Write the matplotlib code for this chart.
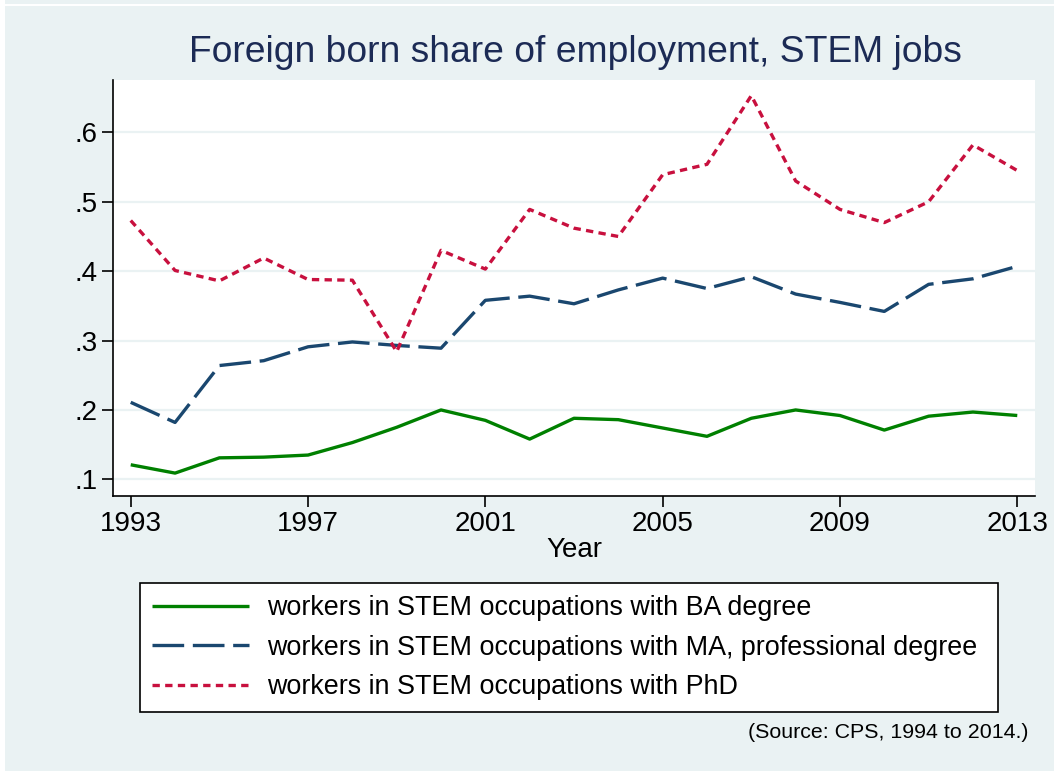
import matplotlib
matplotlib.use("Agg")
import matplotlib.pyplot as plt
from matplotlib.patches import Rectangle

years = list(range(1993, 2014))
ba = [0.121, 0.109, 0.131, 0.132, 0.135, 0.153, 0.175, 0.200, 0.185, 0.158,
      0.188, 0.186, 0.174, 0.162, 0.188, 0.200, 0.192, 0.171, 0.191, 0.197, 0.192]
ma = [0.211, 0.182, 0.264, 0.271, 0.291, 0.298, 0.293, 0.289, 0.358, 0.364,
      0.353, 0.373, 0.390, 0.375, 0.392, 0.367, 0.355, 0.342, 0.381, 0.389, 0.407]
phd = [0.473, 0.401, 0.386, 0.419, 0.388, 0.387, 0.284, 0.430, 0.403, 0.489,
       0.462, 0.450, 0.539, 0.554, 0.653, 0.530, 0.489, 0.470, 0.500, 0.582, 0.545]

xticks = [1993, 1997, 2001, 2005, 2009, 2013]
yticks = [0.1, 0.2, 0.3, 0.4, 0.5, 0.6]
ytick_labels = [".1", ".2", ".3", ".4", ".5", ".6"]
labels = ["workers in STEM occupations with BA degree",
          "workers in STEM occupations with MA, professional degree",
          "workers in STEM occupations with PhD"]
title = "Foreign born share of employment, STEM jobs"
note = "(Source: CPS, 1994 to 2014.)"

plt.rcParams['font.family'] = ['Liberation Sans', 'DejaVu Sans']

bg = "#eaf2f3"
green = "#008000"
navy = "#1a476f"
red = "#c8103e"

fig = plt.figure(figsize=(10.54, 7.71), dpi=100, facecolor=bg)
fig.patches.append(Rectangle((0, 0), 5/1054, 1, transform=fig.transFigure,
                             facecolor="white", edgecolor="none", zorder=0))
fig.patches.append(Rectangle((0, 1 - 6/771), 1, 2/771, transform=fig.transFigure,
                             facecolor="white", edgecolor="none", zorder=0))

ax = fig.add_axes([113/1054, 1 - 496/771, (1035 - 113)/1054, (496 - 80)/771])
ax.set_facecolor("white")

lw = 2.4
ax.plot(years, ba, color=green, lw=lw, solid_capstyle="butt", label=labels[0])
ax.plot(years, ma, color=navy, lw=lw, linestyle=(0, (9.5, 2.6)), dash_capstyle="butt", label=labels[1])
ax.plot(years, phd, color=red, lw=lw, linestyle=(0, (2.2, 1.6)), dash_capstyle="butt", label=labels[2])

ax.set_xlim(1992.6, 2013.4)
ax.set_ylim(0.076, 0.6755)
ax.set_xticks(xticks)
ax.set_xticklabels([str(x) for x in xticks])
ax.set_yticks(yticks)
ax.set_yticklabels(ytick_labels)
ax.grid(axis="y", color=bg, lw=1.6)
ax.set_axisbelow(True)
for s in ["top", "right"]:
    ax.spines[s].set_visible(False)
for s in ["left", "bottom"]:
    ax.spines[s].set_color("black")
    ax.spines[s].set_linewidth(1.2)
ax.tick_params(axis="both", direction="out", length=8, width=1.2, colors="black",
               labelsize=20, pad=3)
ax.set_xlabel("Year", fontsize=20, labelpad=0)

fig.text(575/1054, 1 - 53/771, title, ha="center", va="center", fontsize=26.8, color="#1c2b55")

leg = fig.legend(loc="upper left", bbox_to_anchor=(140/1054, 1 - 583/771, 858/1054, 0.0),
                 mode="expand", ncol=1, fontsize=19.4, frameon=True, fancybox=False,
                 edgecolor="black", facecolor="white", framealpha=1,
                 handlelength=3.6, handletextpad=0.67, borderpad=0.45, labelspacing=0.5,
                 borderaxespad=0)
leg.get_frame().set_linewidth(1.2)

fig.text(1029/1054, 1 - 733/771, note, ha="right", va="center", fontsize=15.4, color="black")

fig.savefig("out.png", dpi=100, facecolor=bg)
